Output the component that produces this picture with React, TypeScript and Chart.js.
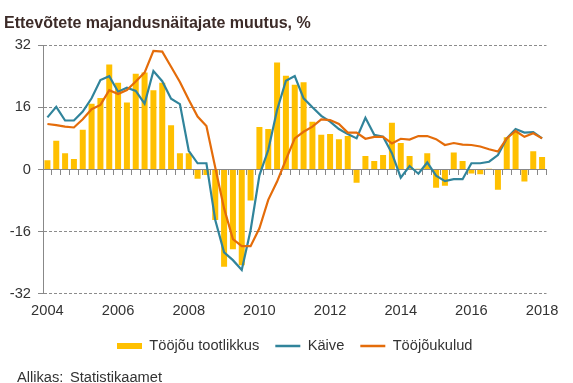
import React, { useEffect, useRef } from 'react';
import { Chart, registerables } from 'chart.js';

Chart.register(...registerables);

const FONT = "'Liberation Sans', Arial, sans-serif";

const categories = [
  '2004 I', '2004 II', '2004 III', '2004 IV',
  '2005 I', '2005 II', '2005 III', '2005 IV',
  '2006 I', '2006 II', '2006 III', '2006 IV',
  '2007 I', '2007 II', '2007 III', '2007 IV',
  '2008 I', '2008 II', '2008 III', '2008 IV',
  '2009 I', '2009 II', '2009 III', '2009 IV',
  '2010 I', '2010 II', '2010 III', '2010 IV',
  '2011 I', '2011 II', '2011 III', '2011 IV',
  '2012 I', '2012 II', '2012 III', '2012 IV',
  '2013 I', '2013 II', '2013 III', '2013 IV',
  '2014 I', '2014 II', '2014 III', '2014 IV',
  '2015 I', '2015 II', '2015 III', '2015 IV',
  '2016 I', '2016 II', '2016 III', '2016 IV',
  '2017 I', '2017 II', '2017 III', '2017 IV',
  '2018 I',
];

const tickYears = ['2004', '2006', '2008', '2010', '2012', '2014', '2016', '2018'];
const yTickValues = [-32, -16, 0, 16, 32];

const toojouTootlikkus = [
  2.4, 7.4, 4.2, 2.7, 10.2, 16.9, 18.4, 27.0, 22.3, 17.2,
  24.6, 24.9, 20.4, 22.3, 11.4, 4.2, 4.2, -2.4, -1.4, -13.0,
  -25.0, -20.5, -24.6, -8.0, 10.9, 10.4, 27.5, 24.1, 21.8, 22.4,
  12.3, 8.9, 9.1, 7.8, 8.6, -3.4, 3.5, 2.2, 3.7, 12.0,
  6.8, 3.5, 0.2, 4.2, -4.7, -4.2, 4.4, 2.2, -1.0, -1.2,
  0.2, -5.2, 8.3, 9.7, -3.1, 4.7, 3.2,
];

const kaive = [
  13.4, 16.1, 12.6, 12.6, 14.9, 18.3, 23.0, 24.0, 20.0, 21.0,
  20.2, 16.9, 25.3, 22.7, 18.2, 16.8, 4.8, 1.6, 1.6, -13.0,
  -21.3, -23.3, -25.8, -15.6, -1.5, 5.0, 15.3, 22.8, 24.0, 18.3,
  16.0, 13.8, 12.3, 10.4, 9.1, 8.0, 13.3, 8.9, 8.4, 4.2,
  -2.1, 0.9, -1.1, 1.8, -1.6, -3.0, -2.5, -2.5, 1.6, 1.6,
  2.0, 3.7, 8.0, 10.4, 9.5, 9.6, 8.0,
];

const toojoukulud = [
  11.7, 11.4, 11.0, 10.8, 12.9, 15.5, 16.6, 20.4, 19.4, 20.4,
  22.6, 24.9, 30.5, 30.3, 26.4, 22.5, 17.9, 13.6, 11.2, 0.5,
  -10.0, -17.9, -19.7, -19.7, -15.1, -7.8, -3.1, 2.5, 8.0, 9.7,
  11.0, 12.9, 12.7, 11.7, 9.5, 9.5, 7.9, 8.4, 8.4, 6.7,
  7.9, 7.7, 8.6, 8.6, 7.8, 6.3, 6.8, 6.4, 6.3, 5.9,
  5.2, 4.6, 8.0, 9.9, 8.4, 9.3, 8.0,
];

const sourceLabel = 'Allikas:';
const sourceName = 'Statistikaamet';

const sourcePlugin = {
  id: 'sourceText',
  afterDraw(chart: any) {
    const ctx = chart.ctx;
    ctx.save();
    ctx.font = `14.67px ${FONT}`;
    ctx.fillStyle = '#333333';
    ctx.textAlign = 'left';
    ctx.textBaseline = 'alphabetic';
    ctx.fillText(sourceLabel, 17, 381.5);
    ctx.fillText(sourceName, 70, 381.5);
    ctx.restore();
  },
};

export default function App() {
  const ref = useRef<HTMLCanvasElement>(null);

  useEffect(() => {
    document.body.style.margin = '0';
    const canvas = ref.current!;
    const chart = new Chart(canvas, {
      type: 'bar',
      data: {
        labels: categories,
        datasets: [
          {
            type: 'bar',
            label: 'Tööjõu tootlikkus',
            data: toojouTootlikkus,
            backgroundColor: '#FFC000',
            borderWidth: 0,
            barPercentage: 0.68,
            categoryPercentage: 1.0,
            pointStyle: 'rect',
            order: 3,
          } as any,
          {
            type: 'line',
            label: 'Käive',
            data: kaive,
            borderColor: '#31849B',
            backgroundColor: '#31849B',
            borderWidth: 2.2,
            pointRadius: 0,
            pointHoverRadius: 0,
            pointBorderWidth: 2.5,
            pointStyle: 'line',
            tension: 0,
            order: 2,
          } as any,
          {
            type: 'line',
            label: 'Tööjõukulud',
            data: toojoukulud,
            borderColor: '#E46C0A',
            backgroundColor: '#E46C0A',
            borderWidth: 2.2,
            pointRadius: 0,
            pointHoverRadius: 0,
            pointBorderWidth: 2.5,
            pointStyle: 'line',
            tension: 0,
            order: 1,
          } as any,
        ],
      },
      options: {
        responsive: false,
        animation: false,
        devicePixelRatio: 1,
        layout: { padding: { left: 4, right: 26.5, top: 0, bottom: 19.67 } },
        scales: {
          x: {
            type: 'category',
            position: 'bottom',
            offset: true,
            grid: { display: false, drawTicks: false },
            border: { display: false },
            ticks: {
              autoSkip: false,
              maxRotation: 0,
              padding: 8,
              color: '#333333',
              font: { family: FONT, size: 14.67 },
              callback: (_v: any, index: number) => {
                const parts = categories[index].split(' ');
                return parts[1] === 'I' && tickYears.includes(parts[0]) ? parts[0] : '';
              },
            },
            afterFit: (s: any) => {
              s.height = 28.67;
            },
          },
          x2: {
            type: 'category',
            axis: 'x',
            position: { y: 0 },
            offset: true,
            grid: {
              display: true,
              drawOnChartArea: false,
              drawTicks: true,
              offset: true,
              tickLength: 5,
              tickColor: '#888888',
              color: '#888888',
            },
            border: { display: true, color: '#888888', width: 1 },
            ticks: { display: false, autoSkip: false },
          } as any,
          y: {
            type: 'linear',
            position: 'left',
            min: -32,
            max: 32,
            afterBuildTicks: (s: any) => {
              s.ticks = yTickValues.map((v) => ({ value: v }));
            },
            grid: {
              color: (c: any) => (c.tick && c.tick.value === 0 ? 'rgba(0,0,0,0)' : '#8c8c8c'),
              tickColor: '#888888',
              tickLength: 5,
              lineWidth: 1,
            },
            border: { display: true, color: '#888888', width: 1, dash: [3, 2] },
            ticks: {
              padding: 7,
              color: '#333333',
              font: { family: FONT, size: 14.67 },
            },
            afterFit: (s: any) => {
              s.width = 39;
            },
          },
        },
        plugins: {
          title: {
            display: true,
            text: 'Ettevõtete majandusnäitajate muutus, %',
            align: 'start',
            color: '#3c2b28',
            font: { family: FONT, size: 16, weight: 'bold' },
            padding: { top: 14.4, bottom: 11.4 },
          },
          legend: {
            display: true,
            position: 'bottom',
            fullSize: false,
            labels: {
              usePointStyle: true,
              pointStyleWidth: 25,
              boxHeight: 6,
              padding: 16,
              color: '#333333',
              font: { family: FONT, size: 14.67 },
              sort: (a: any, b: any) => a.datasetIndex - b.datasetIndex,
            },
          },
          tooltip: { enabled: false },
        },
      } as any,
      plugins: [sourcePlugin],
    });
    return () => chart.destroy();
  }, []);

  return (
    <div style={{ width: 573, height: 383, position: 'relative' }}>
      <canvas ref={ref} width={573} height={383} style={{ display: 'block', width: 573, height: 383 }} />
    </div>
  );
}
